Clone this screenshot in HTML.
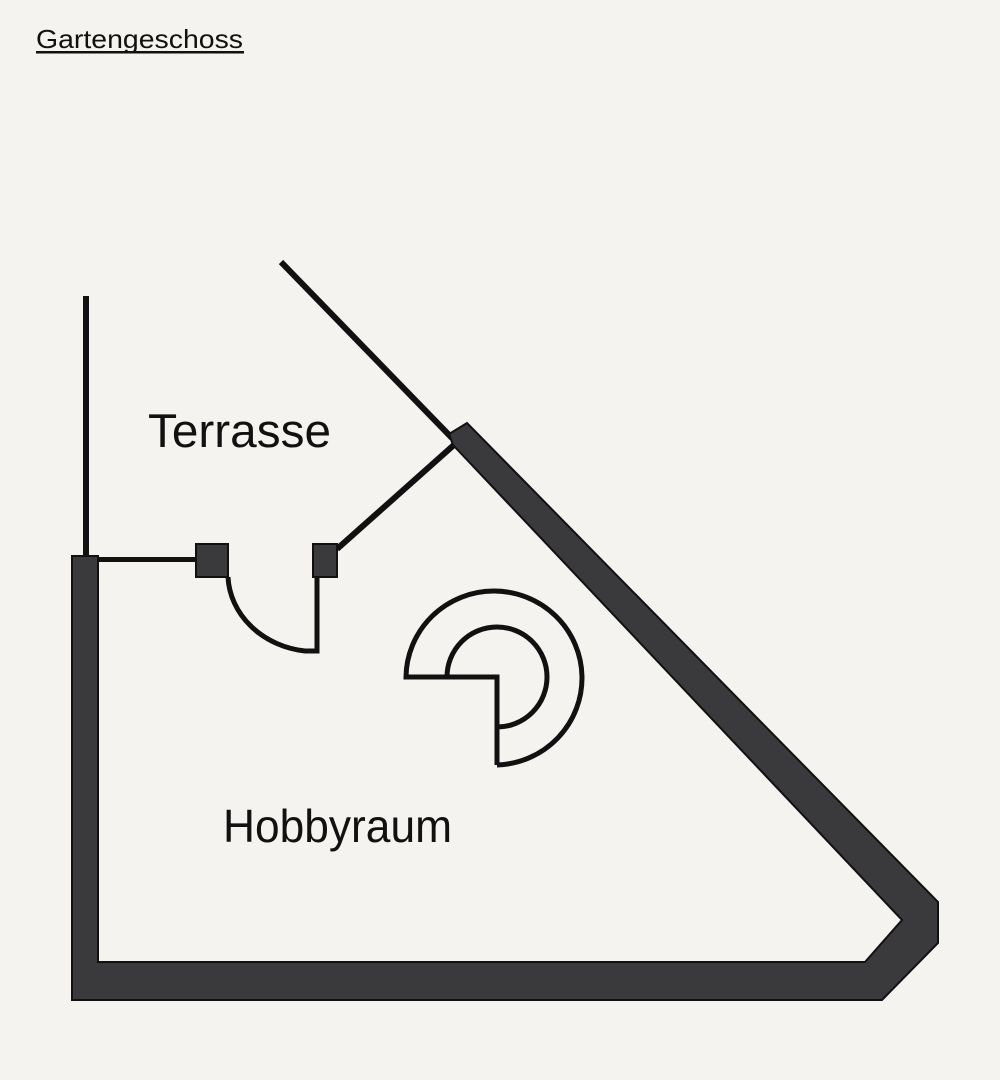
<!DOCTYPE html>
<html><head><meta charset="utf-8"><style>
html,body{margin:0;padding:0;background:#f4f3ef;}
svg{display:block}
</style></head><body>
<svg width="1000" height="1080" viewBox="0 0 1000 1080" xmlns="http://www.w3.org/2000/svg">
<rect width="1000" height="1080" fill="#f4f3ef"/>
<text x="36" y="48" font-family="Liberation Sans, sans-serif" font-size="26" textLength="207" lengthAdjust="spacingAndGlyphs" fill="#111">Gartengeschoss</text>
<rect x="36" y="51" width="208" height="2.5" fill="#111"/>
<text x="148" y="447" font-family="Liberation Sans, sans-serif" font-size="47" textLength="183" lengthAdjust="spacingAndGlyphs" fill="#111">Terrasse</text>
<text x="223" y="842" font-family="Liberation Sans, sans-serif" font-size="46" textLength="229" lengthAdjust="spacingAndGlyphs" fill="#111">Hobbyraum</text>
<!-- thin lines -->
<line x1="86" y1="296" x2="86" y2="556" stroke="#111" stroke-width="6"/>
<line x1="98" y1="559.5" x2="200" y2="559.5" stroke="#111" stroke-width="5"/>
<line x1="281" y1="262" x2="452" y2="438" stroke="#111" stroke-width="6"/>
<line x1="337" y1="549" x2="455" y2="444" stroke="#111" stroke-width="6"/>
<!-- thick wall -->
<path d="M72,556 L98,556 L98,962 L865,962 L902,920 L453,445 L449,434 L467,423 L938,902 L938,943 L882,1000 L72,1000 Z" fill="#3a3a3c" stroke="#111" stroke-width="2"/>
<!-- door piers -->
<rect x="196" y="544" width="32" height="33" fill="#3a3a3c" stroke="#111" stroke-width="2"/>
<rect x="313" y="544" width="24" height="33" fill="#3a3a3c" stroke="#111" stroke-width="2"/>
<path d="M228,577 A88 78 0 0 0 305 651 L317 651 L317 577" fill="none" stroke="#111" stroke-width="5"/>
<!-- stairs -->
<path d="M497,765 L497,677 L406,677 A88 87 0 1 1 497 765" fill="none" stroke="#111" stroke-width="5"/>
<path d="M447,677 A50 50 0 1 1 497 727" fill="none" stroke="#111" stroke-width="5"/>
</svg>
</body></html>
